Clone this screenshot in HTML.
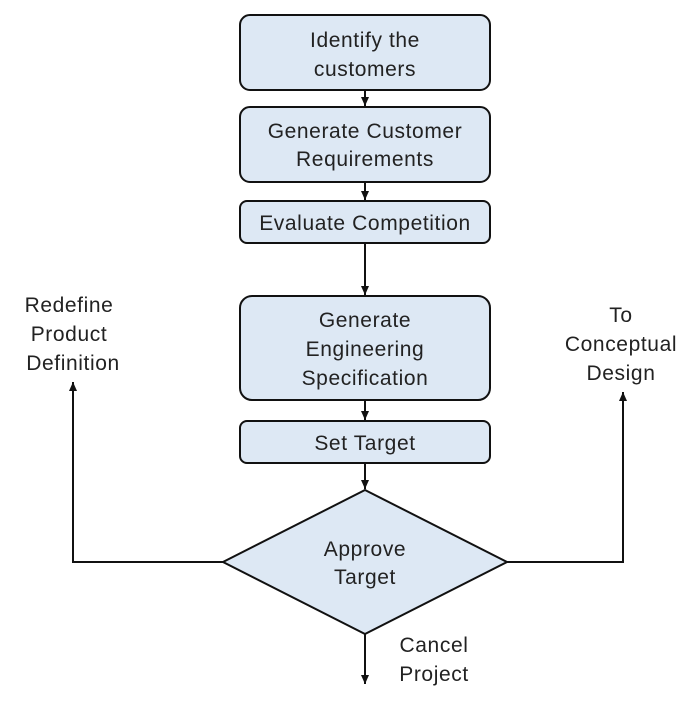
<!DOCTYPE html>
<html><head><style>body{margin:0;background:#fff}</style></head><body>
<svg width="700" height="696" xmlns="http://www.w3.org/2000/svg" font-family="Liberation Sans, sans-serif" font-size="21" letter-spacing="0.6" fill="#222">
<defs><marker id="a" markerWidth="9" markerHeight="8" refX="9" refY="4" orient="auto" markerUnits="userSpaceOnUse"><path d="M0,0 L9,4 L0,8 z" fill="#111"/></marker></defs>
<g fill="#dde8f4" stroke="#111" stroke-width="2">
<rect x="240" y="15" width="250" height="75" rx="10"/>
<rect x="240" y="107" width="250" height="75" rx="10"/>
<rect x="240" y="201" width="250" height="42" rx="7"/>
<rect x="240" y="296" width="250" height="104" rx="12"/>
<rect x="240" y="421" width="250" height="42" rx="7"/>
<polygon points="365,490 507,562 365,634 223,562"/>
</g>
<g stroke="#111" stroke-width="2" fill="none">
<line x1="365" y1="90" x2="365" y2="106" marker-end="url(#a)"/>
<line x1="365" y1="182" x2="365" y2="200" marker-end="url(#a)"/>
<line x1="365" y1="243" x2="365" y2="295" marker-end="url(#a)"/>
<line x1="365" y1="400" x2="365" y2="420" marker-end="url(#a)"/>
<line x1="365" y1="463" x2="365" y2="489" marker-end="url(#a)"/>
<polyline points="223,562 73,562 73,382" marker-end="url(#a)"/>
<polyline points="507,562 623,562 623,392" marker-end="url(#a)"/>
<line x1="365" y1="634" x2="365" y2="684" marker-end="url(#a)"/>
</g>
<g text-anchor="middle">
<text x="365" y="47">Identify the</text><text x="365" y="76">customers</text>
<text x="365" y="138">Generate Customer</text><text x="365" y="166">Requirements</text>
<text x="365" y="230">Evaluate Competition</text>
<text x="365" y="327">Generate</text><text x="365" y="356">Engineering</text><text x="365" y="385">Specification</text>
<text x="365" y="450">Set Target</text>
<text x="365" y="556">Approve</text><text x="365" y="584">Target</text>
<text x="69" y="312">Redefine</text><text x="69" y="341">Product</text><text x="73" y="370">Definition</text>
<text x="621" y="322">To</text><text x="621" y="351">Conceptual</text><text x="621" y="380">Design</text>
<text x="434" y="652">Cancel</text><text x="434" y="681">Project</text>
</g>
</svg>
</body></html>
